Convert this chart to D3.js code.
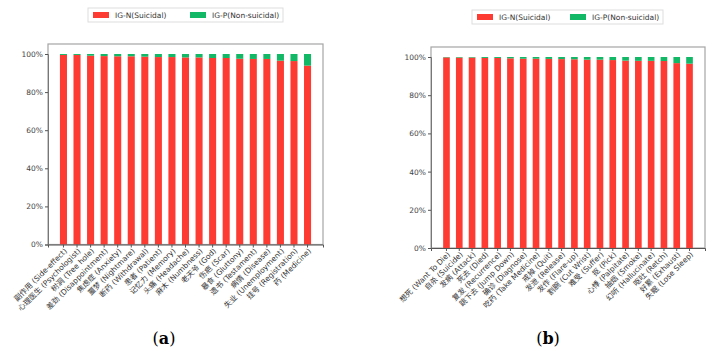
<!DOCTYPE html>
<html>
<head>
<meta charset="utf-8">
<script src="https://cdn.jsdelivr.net/npm/d3@7"></script>
<style>
  body { margin: 0; background: #fff; }
  svg text { font-family: "DejaVu Sans", "Noto Sans CJK SC", sans-serif; }
  svg text.caption { font-family: "DejaVu Serif", "Liberation Serif", serif; }
</style>
</head>
<body>
<div id="chart"></div>
<script>
// panel (a) words
let catsA = ["副作用 (Side-effect)", "心理医生 (Psychologist)", "树洞 (Tree hole)", "差劲 (Disappointment)",
    "焦虑症 (Anxiety)", "噩梦 (Nightmare)", "断药 (Withdrawal)", "患者 (Patient)", "记忆力 (Memory)",
    "头痛 (Headache)", "麻木 (Numbness)", "老天爷 (God)", "伤疤 (Scar)", "暴食 (Gluttony)",
    "遗书 (Testament)", "病情 (Disease)", "失业 (Unemployment)", "挂号 (Registration)", "药 (Medicine)"];
let sucA = [99.5, 99.5, 99.1, 98.9, 98.8, 98.8, 98.6, 98.4, 98.4, 98.2, 98.2, 97.9, 97.9, 97.5, 97.4, 97.4, 96.5, 96.3, 93.9];
let nonA = [0.5, 0.5, 0.9, 1.1, 1.2, 1.2, 1.4, 1.6, 1.6, 1.8, 1.8, 2.1, 2.1, 2.5, 2.6, 2.6, 3.5, 3.7, 6.1];

// panel (b) words
let catsB = ["想死 (Want To Die)", "自杀 (Suicide)", "发病 (Attack)", "死去 (Died)", "复发 (Recurrence)",
    "跳下去 (Jump Down)", "确诊 (Diagnose)", "吃药 (Take Medicine)", "戒掉 (Quit)", "发泄 (Release)",
    "发作 (Flare-up)", "割腕 (Cut Wrist)", "难受 (Suffer)", "抠 (Pick)", "心悸 (Palpitate)",
    "抽烟 (Smoke)", "幻听 (Hallucinate)", "呕吐 (Retch)", "好累 (Exhaust)", "失眠 (Lose Sleep)"];
let sucB = [99.8, 99.7, 99.7, 99.5, 99.5, 99.3, 99.1, 99.1, 99.0, 98.9, 98.8, 98.6, 98.6, 98.4, 98.1, 98.0, 98.0, 97.9, 96.8, 96.5];
let nonB = [0.2, 0.3, 0.3, 0.5, 0.5, 0.7, 0.9, 0.9, 1.0, 1.1, 1.2, 1.4, 1.4, 1.6, 1.9, 2.0, 2.0, 2.1, 3.2, 3.5];

let yTicks = [0, 20, 40, 60, 80, 100];
let seriesNames = ["IG-N(Suicidal)", "IG-P(Non-suicidal)"];
let red = "#fe3b33", green = "#12b866";

let svg = d3.select("#chart").append("svg")
    .attr("width", 712)
    .attr("height", 357);

function drawPanel(cats, suc, non, p) {
    let g = svg.append("g");

    let x = d3.scaleBand()
        .domain(cats)
        .range([p.left, p.right])
        .paddingInner(0.48)
        .paddingOuter(p.outer);

    let y = d3.scaleLinear()
        .domain([0, 100])
        .range([p.zero, p.full]);

    // frame
    g.append("rect")
        .attr("x", p.left).attr("y", p.top)
        .attr("width", p.right - p.left).attr("height", p.zero - p.top)
        .attr("fill", "none").attr("stroke", "#a5a5a5").attr("stroke-width", 1.2);

    let rows = cats.map((c, i) => ({cat: c, n: suc[i], p: non[i]}));

    g.selectAll(".barN").data(rows).enter().append("rect")
        .attr("x", d => x(d.cat))
        .attr("y", d => y(d.n))
        .attr("width", x.bandwidth())
        .attr("height", d => y(0) - y(d.n))
        .attr("fill", red);

    g.selectAll(".barP").data(rows).enter().append("rect")
        .attr("x", d => x(d.cat))
        .attr("y", d => y(d.n + d.p))
        .attr("width", x.bandwidth())
        .attr("height", d => y(d.n) - y(d.n + d.p))
        .attr("fill", green);

    let ya = g.append("g")
        .attr("transform", "translate(" + p.left + ",0)")
        .call(d3.axisLeft(y).tickValues(yTicks).tickFormat(d => d + "%").tickSize(3).tickPadding(2));
    ya.select(".domain").attr("stroke", "#777");
    ya.selectAll(".tick line").attr("stroke", "#555");
    ya.selectAll("text").attr("font-size", 7.5).attr("fill", "#444");

    let xa = g.append("g")
        .attr("transform", "translate(0," + p.zero + ")")
        .call(d3.axisBottom(x).tickSize(3).tickPadding(1));
    xa.select(".domain").attr("stroke", "#555");
    xa.selectAll(".tick line").attr("stroke", "#555");
    xa.selectAll("text")
        .attr("font-size", 7.5)
        .attr("fill", "#333")
        .attr("text-anchor", "end")
        .attr("dy", "0.5em")
        .attr("transform", "rotate(-45) translate(-2,0)");

    // legend
    let lg = g.append("g");
    lg.append("rect")
        .attr("x", p.legX).attr("y", p.legY)
        .attr("width", p.legW).attr("height", 14)
        .attr("fill", "#fff").attr("stroke", "#ddd");
    seriesNames.forEach((s, i) => {
        let lx = p.legX + 5 + i * p.legStep;
        lg.append("rect")
            .attr("x", lx).attr("y", p.legY + 4)
            .attr("width", 16).attr("height", 6)
            .attr("fill", i ? green : red);
        lg.append("text")
            .attr("x", lx + 22).attr("y", p.legY + 10)
            .attr("font-size", 7.5).attr("fill", "#333")
            .text(s);
    });

    // caption
    svg.append("text")
        .attr("class", "caption")
        .attr("x", p.capX).attr("y", 344)
        .attr("text-anchor", "middle")
        .attr("font-size", 16)
        .html("(<tspan font-weight='bold'>" + p.cap + "</tspan>)");
}

drawPanel(catsA, sucA, nonA, {left: 48, right: 323, top: 44, full: 54, zero: 244.5, outer: 0.88,
    legX: 88, legY: 8, legW: 195, legStep: 97, capX: 164, cap: "a"});
drawPanel(catsB, sucB, nonB, {left: 431, right: 705, top: 47, full: 57, zero: 248, outer: 0.95,
    legX: 472, legY: 10, legW: 191, legStep: 93, capX: 548, cap: "b"});
</script>
</body>
</html>
